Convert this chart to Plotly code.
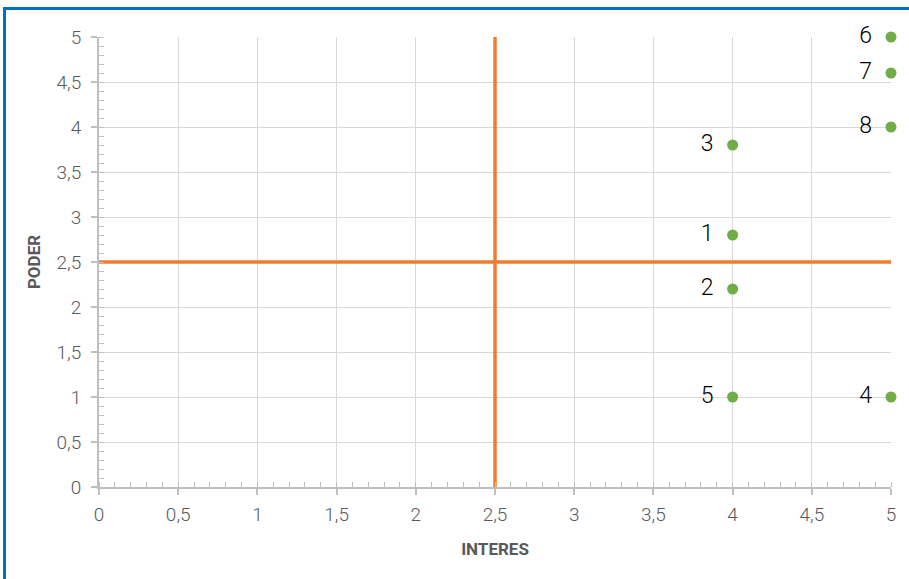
import plotly.graph_objects as go

# Stakeholder positions: interest (x) vs. power (y)
labels = ["1", "2", "3", "4", "5", "6", "7", "8"]
interes = [4, 4, 4, 5, 4, 5, 5, 5]
poder = [2.8, 2.2, 3.8, 1, 1, 5, 4.6, 4]

# Quadrant dividers
mid_x = 2.5
mid_y = 2.5

tick_vals = [0, 0.5, 1, 1.5, 2, 2.5, 3, 3.5, 4, 4.5, 5]
tick_text = ["0", "0,5", "1", "1,5", "2", "2,5", "3", "3,5", "4", "4,5", "5"]

W, H = 909, 579
left, right, top, bottom = 99, 18, 37, 92
pw = W - left - right
ph = H - top - bottom

tick_font = dict(family="Roboto, sans-serif", size=19, color="#595959", weight=300)
title_font = dict(family="Roboto, sans-serif", size=17, color="#595959")

fig = go.Figure()

# orange quadrant lines
fig.add_trace(go.Scatter(x=[0, 5], y=[mid_y, mid_y], mode="lines",
                         line=dict(color="#ED7D31", width=3.5), hoverinfo="skip",
                         showlegend=False, cliponaxis=False))
fig.add_trace(go.Scatter(x=[mid_x, mid_x], y=[0, 5], mode="lines",
                         line=dict(color="#ED7D31", width=3.5), hoverinfo="skip",
                         showlegend=False, cliponaxis=False))

fig.add_trace(go.Scatter(
    x=interes, y=poder, mode="markers+text",
    text=[t + "  " for t in labels], textposition="middle left",
    textfont=dict(family="Roboto, sans-serif", size=23, color="#000000", weight=300),
    marker=dict(color="#70AD47", size=11),
    showlegend=False, cliponaxis=False,
))

axis_common = dict(
    range=[0, 5], tickvals=tick_vals, ticktext=tick_text,
    showgrid=True, gridcolor="#D9D9D9", gridwidth=1.3,
    showline=True, linecolor="#BFBFBF", linewidth=2,
    ticks="outside", ticklen=6, tickcolor="#BFBFBF", tickwidth=2,
    tickfont=tick_font, zeroline=False,
    minor=dict(dtick=0.1, ticks="inside", ticklen=5, tickcolor="#BFBFBF", tickwidth=1.3, showgrid=False),
)

fig.update_xaxes(**axis_common, ticklabelstandoff=3,
                 title=dict(text="<b>INTERES</b>", font=title_font, standoff=18))
fig.update_yaxes(**axis_common, ticklabelstandoff=6,
                 title=dict(text="<b>PODER</b>", font=title_font, standoff=12))

# blue frame around the chart area
fig.add_shape(type="rect", xref="paper", yref="paper",
              x0=(4.5 - left) / pw, x1=(W + 20 - left) / pw,
              y0=-(bottom + 20) / ph,
              y1=1 + (top - 8.5) / ph,
              line=dict(color="#0070C0", width=3), fillcolor="rgba(0,0,0,0)", layer="above")

fig.update_layout(
    width=W, height=H,
    margin=dict(l=left, r=right, t=top, b=bottom),
    plot_bgcolor="white", paper_bgcolor="white",
    separators=", ",
)

fig.write_html("out.html")
